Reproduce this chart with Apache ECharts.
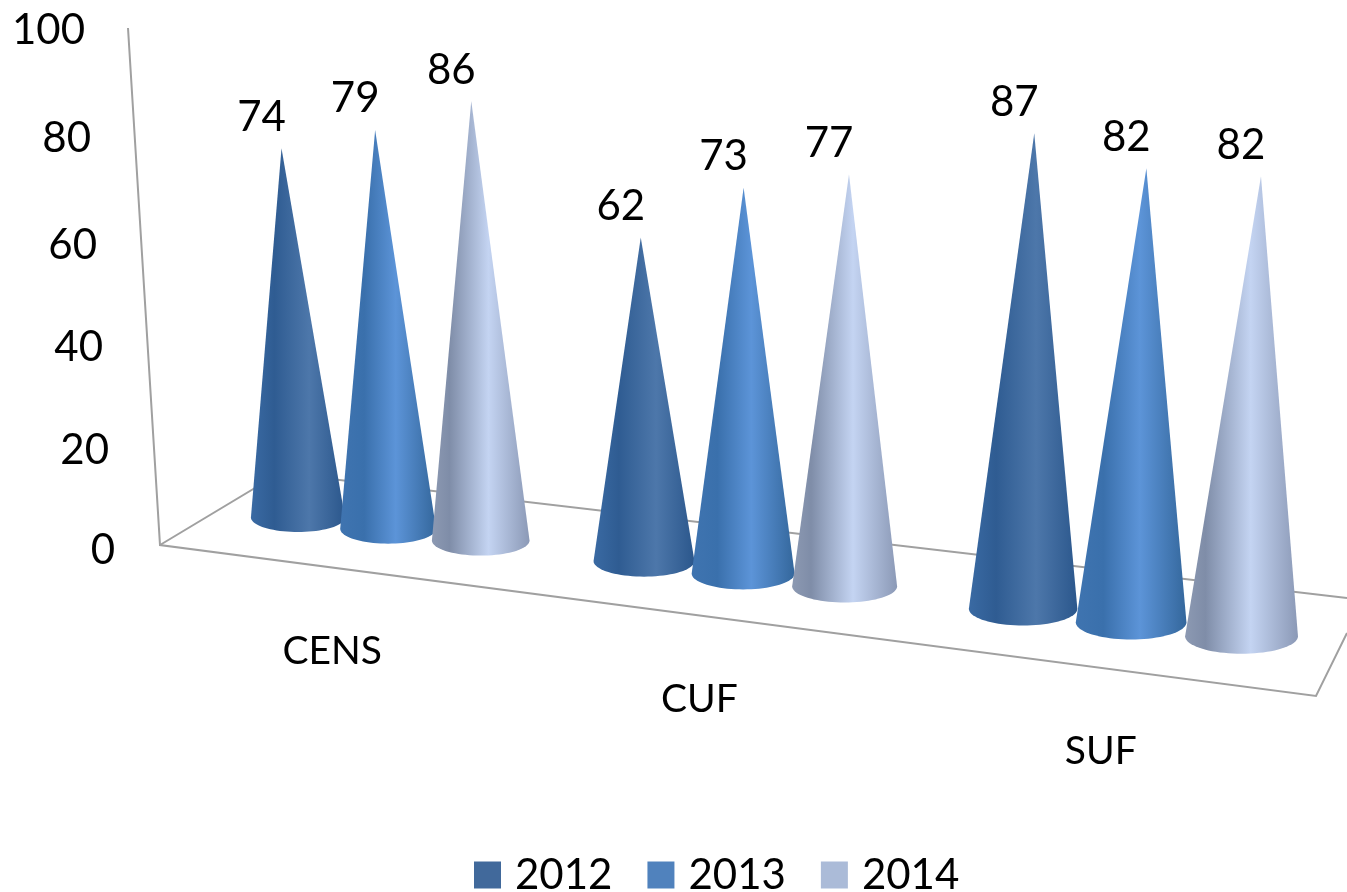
<!DOCTYPE html>
<html>
<head>
<meta charset="utf-8">
<script src="https://cdn.jsdelivr.net/npm/echarts@6/dist/echarts.min.js"></script>
<style>
  html, body { margin: 0; background: #fff; }
  #chart { width: 1347px; height: 892px; }
</style>
</head>
<body>
<div id="chart"></div>
<script>
var categories = ["CENS", "CUF", "SUF"];
var seriesNames = ["2012", "2013", "2014"];
var values2012 = [74, 62, 87];
var values2013 = [79, 73, 82];
var values2014 = [86, 77, 82];
var yTicks = [0, 20, 40, 60, 80, 100];

var fontName = "Lato";
var legendColors = ["#41699b", "#5082bd", "#abbbd8"];
// left edge -> highlight -> right edge of each cone
var coneStops = [
  [[0, "#3a6aa3"], [0.25, "#2f5c92"], [0.62, "#4d77aa"], [1, "#2b578c"]],
  [[0, "#3f74b0"], [0.25, "#3a70ac"], [0.58, "#5c94d8"], [1, "#34679c"]],
  [[0, "#8c99b2"], [0.18, "#7f8da8"], [0.58, "#c4d4f2"], [1, "#8b99b6"]]
];
// the picture's tick labels are not quite evenly spaced
var tickNudge = { 0: 0, 20: 4, 40: 5, 60: 7, 80: 4, 100: 0 };

// fake 3d: the flat grid is bent onto the slanted floor
function floorX(t) {
  return 223 + 966 * t + 148.5 * t * t;
}
function floorY(x) {
  return 532 + 0.129 * (x - 298);
}

function renderCone(params, api) {
  var i = api.value(0);
  var offset = (params.seriesIndex - 1) * 0.27;
  var sys = params.coordSys;
  var base = api.coord([i, 0]);
  var top = api.coord([i, api.value(1)]);
  var gx = base[0] + offset * api.size([1, 0])[0];
  var x = floorX((gx - sys.x) / sys.width);

  var a = 47 + 0.01 * (x - 298);
  var ry = a * 0.31;
  var bottom = floorY(x);
  var cy = bottom - ry;
  var tipY = cy - (base[1] - top[1]) * (4.99 + 0.000657 * (x - 298)) / 5.2;
  var tipX = x + 0.038 * (x - 730);

  var pts = [[tipX, tipY]];
  for (var k = 0; k <= 40; k++) {
    var ang = Math.PI * k / 40;
    pts.push([x + a * Math.cos(ang), cy + ry * Math.sin(ang)]);
  }

  var kids = [
    {
      type: "polygon",
      shape: { points: pts },
      style: { fill: new echarts.graphic.LinearGradient(0, 0, 1, 0, coneStops[params.seriesIndex].map(function (s) {
        return { offset: s[0], color: s[1] };
      })) }
    },
    {
      type: "text",
      style: {
        text: String(api.value(1)),
        x: tipX - 20,
        y: tipY - 31,
        fill: "#000",
        font: "42px " + fontName,
        align: "center",
        verticalAlign: "middle"
      }
    }
  ];
  if (params.seriesIndex === 1) {
    kids.push({
      type: "text",
      style: {
        text: categories[i],
        x: x - 56 + 0.0345 * (x - 388),
        y: bottom + 108 + 0.005 * (x - 388),
        fill: "#000",
        font: "39px " + fontName,
        align: "center",
        verticalAlign: "middle"
      }
    });
  }
  return { type: "group", children: kids };
}

function coneSeries(name, values) {
  return {
    name: name,
    type: "custom",
    renderItem: renderCone,
    encode: { x: 0, y: 1 },
    clip: false,
    data: values.map(function (v, i) { return [i, v]; })
  };
}

var tickRich = {};
yTicks.forEach(function (v) {
  tickRich["t" + v] = {
    fontFamily: fontName,
    fontSize: 42,
    color: "#000",
    padding: [tickNudge[v] * 2, v * 0.3, 0, 0]
  };
});

var frameStyle = { stroke: "#a0a0a0", lineWidth: 2, fill: null };

var option = {
  animation: false,
  backgroundColor: "#fff",
  color: legendColors,
  grid: { left: 160, right: 40, top: 30, bottom: 342 },
  legend: {
    data: seriesNames,
    left: 474,
    top: 854,
    padding: 0,
    itemWidth: 27,
    itemHeight: 27,
    itemGap: 35,
    icon: "rect",
    textStyle: { fontFamily: fontName, fontSize: 42, color: "#000", padding: [1, 0, 0, 9] }
  },
  xAxis: { type: "category", data: categories, show: false },
  yAxis: {
    type: "value",
    min: 0,
    max: 100,
    interval: 20,
    axisLine: { show: false },
    axisTick: { show: false },
    splitLine: { show: false },
    axisLabel: {
      margin: 45,
      formatter: function (v) { return "{t" + v + "|" + v + "}"; },
      rich: tickRich
    }
  },
  graphic: [
    { type: "polyline", z: -1, shape: { points: [[128, 28], [160, 545], [1316, 696], [1347, 633]] }, style: frameStyle },
    { type: "polyline", z: -1, shape: { points: [[160, 545], [280, 473], [1347, 598]] }, style: frameStyle }
  ],
  series: [
    coneSeries(seriesNames[0], values2012),
    coneSeries(seriesNames[1], values2013),
    coneSeries(seriesNames[2], values2014)
  ]
};

var chart = echarts.init(document.getElementById("chart"));
chart.setOption(option);
</script>
</body>
</html>
